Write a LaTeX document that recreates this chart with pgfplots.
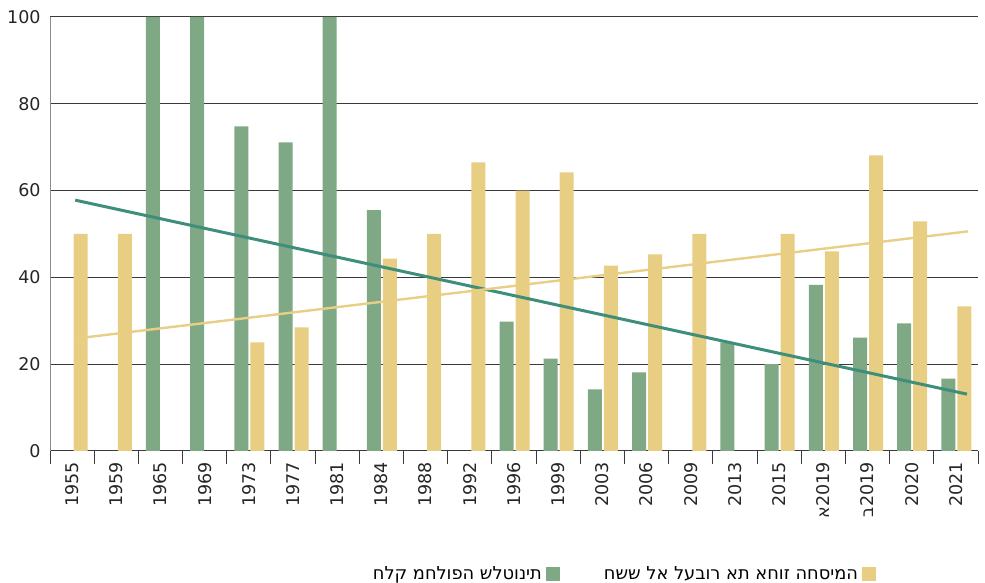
\documentclass[border=0pt]{standalone}
\usepackage{pgfplots}
\pgfplotsset{compat=1.18}
\usepackage{fontspec}
\setmainfont{DejaVu Sans}
\newfontfamily\hebfont[Script=Hebrew]{DejaVu Sans}
\TeXXeTstate=1
\definecolor{barG}{HTML}{7FA884}
\definecolor{barY}{HTML}{E8CE82}
\definecolor{lineG}{HTML}{3F8E7B}
\definecolor{lineY}{HTML}{E8CF85}
\definecolor{gridc}{HTML}{3A3A3A}
\begin{document}
\begin{tikzpicture}
\path[use as bounding box] (-25pt,-66pt) rectangle (467.5pt,225.5pt);
\begin{axis}[
  at={(0pt,0pt)}, anchor=south west,
  scale only axis, width=464pt, height=217pt,
  xmin=-0.5, xmax=20.5, ymin=0, ymax=100,
  enlargelimits=false,
  axis x line*=bottom, axis y line*=left,
  x axis line style={draw=gridc, line width=0.5pt, -},
  y axis line style={draw=gray!90, line width=0.5pt, -},
  ytick={0,20,40,60,80,100},
  ymajorgrids, major grid style={draw=gridc, line width=0.5pt},
  xtick={0,...,20},
  xticklabels={1955,1959,1965,1969,1973,1977,1981,1984,1988,1992,1996,1999,2003,2006,2009,2013,2015,{{\hebfont א}2019},{{\hebfont ב}2019},2020,2021},
  minor xtick={-0.5,0.5,...,20.5},
  major tick length=0pt, minor tick length=6.5pt,
  tick align=outside,
  minor tick style={draw=gridc, line width=0.5pt},
  /pgf/number format/assume math mode=true,
  tick label style={font=\fontsize{8.75pt}{10pt}\selectfont, text=black!85},
  xticklabel style={rotate=90, anchor=east, inner sep=0pt, xshift=-5.5pt},
  yticklabel style={inner sep=0pt, xshift=-4.5pt},
  legend columns=2,
  legend plot pos=right,
  legend style={draw=none, fill=none, at={(0.617,-0.284)}, anchor=center,
    font=\fontsize{8.9pt}{10pt}\selectfont, /tikz/every even column/.append style={column sep=20pt}},
  legend image code/.code={\fill[#1] (2.5pt,-3.5pt) rectangle (9.5pt,3.5pt);},
]
\addplot[ybar, bar width=7pt, bar shift=-3.75pt, fill=barG, draw=none] coordinates {
 (2,100) (3,100) (4,74.8) (5,71.1) (6,100) (7,55.5) (10,29.8) (11,21.3) (12,14.2) (13,18.1) (15,25.0) (16,20.0) (17,38.3) (18,26.1) (19,29.4) (20,16.7)};
\addlegendentry{\hebfont\beginR תינוטלש הפולחמ קלח\endR}
\addplot[ybar, bar width=7pt, bar shift=4.25pt, fill=barY, draw=none] coordinates {
 (0,50) (1,50) (4,25.0) (5,28.5) (7,44.3) (8,50) (9,66.5) (10,60.0) (11,64.2) (12,42.7) (13,45.3) (14,50) (16,50) (17,46.0) (18,68.1) (19,52.9) (20,33.3)};
\addlegendentry{\hebfont\beginR המיסחה זוחא תא רובעל אל ששח\endR}
\addplot[draw=lineG, line width=1.5pt, forget plot] coordinates {(0.07,57.8) (20.25,13.1)};
\addplot[draw=lineY, line width=1.2pt, forget plot] coordinates {(0.07,25.9) (20.27,50.6)};
\end{axis}
\end{tikzpicture}
\end{document}
